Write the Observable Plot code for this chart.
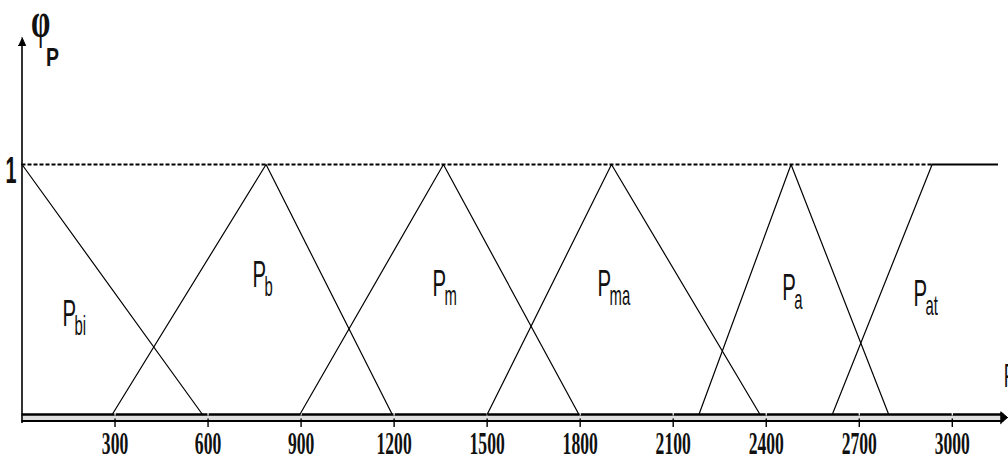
<!DOCTYPE html>
<html>
<head>
<meta charset="utf-8">
<script src="https://cdn.jsdelivr.net/npm/d3@7"></script>
<script src="https://cdn.jsdelivr.net/npm/@observablehq/plot@0.6"></script>
<style>
  html, body { margin: 0; padding: 0; background: #fff; overflow: hidden; }
  #chart svg { display: block; }
</style>
</head>
<body>
<div id="chart"></div>
<script>
// Tick values on the P axis
const xTicks = [300, 600, 900, 1200, 1500, 1800, 2100, 2400, 2700, 3000];

// Fuzzy sets of P and the break points of each membership function φP
const setNames = ["bi", "b", "m", "ma", "a", "at"];
const pBiP = [0, 582],           pBiMu = [1, 0];
const pBP  = [291, 787, 1194],   pBMu  = [0, 1, 0];
const pMP  = [896, 1359, 1796],  pMMu  = [0, 1, 0];
const pMaP = [1500, 1901, 2380], pMaMu = [0, 1, 0];
const pAP  = [2183, 2480, 2795], pAMu  = [0, 1, 0];
const pAtP = [2613, 2935],       pAtMu = [0, 1];
const pAtPlateauEnd = 3149;      // P_at stays at 1 beyond its ramp

// Where each set's name is written (P, φP)
const labelP  = [131, 743, 1324, 1856, 2452, 2875];
const labelMu = [0.40, 0.556, 0.52, 0.52, 0.504, 0.482];

const pMax = 3150;

// Long table of polyline vertices
const breakP  = [pBiP, pBP, pMP, pMaP, pAP, pAtP];
const breakMu = [pBiMu, pBMu, pMMu, pMaMu, pAMu, pAtMu];
const vertices = setNames.flatMap((name, i) =>
  breakP[i].map((p, j) => ({set: name, p, mu: breakMu[i][j]})));
const labels = setNames.map((name, i) => ({name, p: labelP[i], mu: labelMu[i]}));

// Pixel helpers for the decorations: the axes are drawn in data units
const X0 = 21.5, X1 = 998.3, Y0 = 414, Y1 = 164;
const pxP = (px) => px / ((X1 - X0) / pMax);      // pixels -> P units
const pxMu = (px) => px / (Y0 - Y1);              // pixels -> φ units

const axisTop = 1.508;                 // tip of the φ axis arrow
const axisEnd = pMax + pxP(9);         // tip of the P axis arrow
const bandLow = -pxMu(6.5);            // lower line of the double P axis

const yArrow = [
  {p: 0, mu: axisTop},
  {p: pxP(3.6), mu: axisTop - pxMu(8)},
  {p: -pxP(3.6), mu: axisTop - pxMu(8)}
];
const xArrow = [
  {p: axisEnd, mu: bandLow / 2},
  {p: axisEnd - pxP(7), mu: bandLow / 2 + pxMu(6)},
  {p: axisEnd - pxP(7), mu: bandLow / 2 - pxMu(6)}
];

const plot = Plot.plot({
  width: 1008,
  height: 462,
  marginLeft: X0,
  marginRight: 1008 - X1,
  marginTop: Y1,
  marginBottom: 462 - Y0,
  x: {domain: [0, pMax], axis: null},
  y: {domain: [0, 1], axis: null},
  style: {background: "#fff", color: "#000", overflow: "hidden"},
  marks: [
    // double-lined P axis
    Plot.rect([{}], {x1: 0, x2: axisEnd - pxP(6), y1: 0, y2: bandLow, fill: "#dedede"}),
    Plot.ruleY([0], {x1: 0, x2: axisEnd - pxP(4), stroke: "#000", strokeWidth: 2.6}),
    Plot.ruleY([bandLow], {x1: 0, x2: axisEnd - pxP(4), stroke: "#000", strokeWidth: 2}),
    Plot.line(xArrow, {x: "p", y: "mu", fill: "#000", stroke: "#000", strokeWidth: 1}),
    Plot.ruleX(xTicks, {y1: pxMu(1.5), y2: -pxMu(1.5), stroke: "#fff", strokeWidth: 1.2}),
    Plot.ruleX(xTicks, {y1: bandLow + pxMu(2), y2: -pxMu(13), stroke: "#000", strokeWidth: 1.4}),
    Plot.text(xTicks, {
      x: (d) => d, y: 0, dy: 29, text: (d) => String(d),
      fontFamily: "Liberation Serif", fontWeight: "bold", fontSize: 32, fill: "#111"
    }),

    // φP axis
    Plot.ruleX([0], {y1: -pxMu(9), y2: axisTop - pxMu(6), stroke: "#000", strokeWidth: 1.6}),
    Plot.line(yArrow, {x: "p", y: "mu", fill: "#000", stroke: "#000", strokeWidth: 1}),
    Plot.text(["1"], {
      x: 0, y: 1, dx: -11, dy: 7, text: (d) => d,
      fontFamily: "Liberation Sans", fontWeight: "bold", fontSize: 36, fill: "#111"
    }),
    Plot.text(["φ"], {
      x: 0, y: axisTop, dx: 9, dy: -17, text: (d) => d, textAnchor: "start",
      fontFamily: "Liberation Serif", fontWeight: "bold", fontSize: 50, fill: "#111"
    }),
    Plot.text(["P"], {
      x: 0, y: axisTop, dx: 24, dy: 20, text: (d) => d, textAnchor: "start",
      fontFamily: "Liberation Sans", fontWeight: "bold", fontSize: 26, fill: "#111"
    }),

    // membership level 1
    Plot.ruleY([1], {x1: 0, x2: pAtP[1], stroke: "#000", strokeWidth: 2, strokeDasharray: "4,2"}),
    Plot.ruleY([1], {x1: pAtP[1], x2: pAtPlateauEnd, stroke: "#000", strokeWidth: 2.2}),

    // membership functions
    Plot.line(vertices, {x: "p", y: "mu", z: "set", stroke: "#000", strokeWidth: 1.2}),

    // set names
    Plot.text(labels, {
      x: "p", y: "mu", text: () => "P", textAnchor: "start",
      fontFamily: "Liberation Sans", fontSize: 37, fill: "#111"
    }),
    Plot.text(labels, {
      x: "p", y: "mu", dx: 12, dy: 12, text: "name", textAnchor: "start",
      fontFamily: "Liberation Sans", fontSize: 27, fill: "#111"
    }),

    // P axis name
    Plot.text(["P"], {
      x: axisEnd, y: 0, dx: -4, dy: -38, text: (d) => d, textAnchor: "start",
      fontFamily: "Liberation Sans", fontSize: 33, fill: "#111"
    })
  ]
});

// Condensed lettering: squeeze each label horizontally around its anchor
const squeeze = {32: 0.55, 36: 0.55, 50: 0.62, 26: 0.75, 37: 0.55, 27: 0.55, 33: 0.55};
d3.select(plot).selectAll("text").each(function () {
  const g = this.closest("g[font-size]");
  if (!g) return;
  const k = squeeze[parseFloat(g.getAttribute("font-size"))];
  if (!k) return;
  const t = this.getAttribute("transform") || "";
  this.setAttribute("transform", `${t} scale(${k},1)`);
});

document.getElementById("chart").append(plot);
</script>
</body>
</html>
